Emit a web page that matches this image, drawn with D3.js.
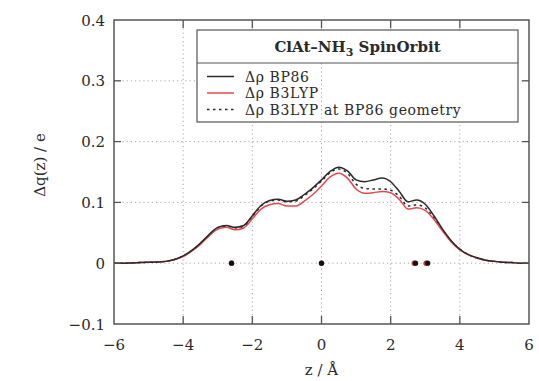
<!DOCTYPE html>
<html>
<head>
<meta charset="utf-8">
<script src="https://cdn.jsdelivr.net/npm/d3@7"></script>
<style>
  html, body { margin: 0; padding: 0; background: #fff; }
  svg { display: block; font-family: "DejaVu Serif", "Liberation Serif", serif; }
</style>
</head>
<body>
<svg id="chart" width="539" height="381"></svg>
<script>
// z positions (Å) at which the charge-displacement curves are sampled
const zGrid = [-6, -5.75, -5.5, -5.25, -5, -4.75, -4.5, -4.25, -4, -3.75, -3.5, -3.25, -3, -2.75, -2.5, -2.25,
  -2, -1.75, -1.5, -1.25, -1, -0.75, -0.5, -0.25, 0, 0.25, 0.5, 0.75, 1, 1.25, 1.5, 1.75,
  2, 2.25, 2.5, 2.75, 3, 3.25, 3.5, 3.75, 4, 4.25, 4.5, 4.75, 5, 5.25, 5.5, 5.75, 6];

// Δq(z) / e for BP86
const bp86 = [0, 0, 0.0005, 0.001, 0.0015, 0.002, 0.003, 0.006, 0.012, 0.021, 0.033, 0.047, 0.059, 0.062, 0.059, 0.062,
  0.078, 0.095, 0.103, 0.105, 0.102, 0.104, 0.113, 0.124, 0.137, 0.151, 0.158, 0.152, 0.137, 0.134, 0.137, 0.140,
  0.134, 0.118, 0.101, 0.104, 0.097, 0.078, 0.056, 0.037, 0.023, 0.014, 0.009, 0.005, 0.003, 0.0015, 0.001, 0, 0];

// Δq(z) / e for B3LYP
const b3lyp = [0, 0, 0.0005, 0.001, 0.0015, 0.002, 0.003, 0.006, 0.011, 0.020, 0.031, 0.045, 0.056, 0.059, 0.055, 0.058,
  0.073, 0.089, 0.096, 0.098, 0.094, 0.094, 0.102, 0.113, 0.127, 0.142, 0.148, 0.140, 0.122, 0.115, 0.116, 0.118,
  0.116, 0.105, 0.089, 0.091, 0.087, 0.072, 0.053, 0.035, 0.022, 0.014, 0.008, 0.005, 0.003, 0.0015, 0.001, 0, 0];

// Δq(z) / e for B3LYP evaluated at the BP86 geometry
const b3lypAtBp86 = [0, 0, 0.0005, 0.001, 0.0015, 0.002, 0.003, 0.006, 0.012, 0.021, 0.032, 0.046, 0.058, 0.061, 0.058, 0.061,
  0.077, 0.094, 0.102, 0.104, 0.101, 0.102, 0.111, 0.122, 0.135, 0.149, 0.155, 0.148, 0.130, 0.123, 0.122, 0.122,
  0.120, 0.110, 0.094, 0.096, 0.091, 0.075, 0.055, 0.036, 0.023, 0.014, 0.008, 0.005, 0.003, 0.0015, 0.001, 0, 0];

// nuclear positions along z (Å)
const atomsBp86 = [-2.6, 0, 2.72, 3.07];
const atomsB3lyp = [-2.6, 0, 2.68, 3.02];

const xTicks = [-6, -4, -2, 0, 2, 4, 6];
const yTicks = [-0.1, 0, 0.1, 0.2, 0.3, 0.4];

const legendTitle = "ClAt–NH";
const legendTitleSub = "3";
const legendTitleEnd = " SpinOrbit";
const seriesNames = ["Δρ BP86", "Δρ B3LYP", "Δρ B3LYP at BP86 geometry"];

const svg = d3.select("#chart");
const pLeft = 114, pRight = 529, pTop = 20, pBottom = 324;
const x = d3.scaleLinear().domain([-6, 6]).range([pLeft, pRight]);
const y = d3.scaleLinear().domain([-0.1, 0.4]).range([pBottom, pTop]);

const ink = "#2a2a2a";
const red = "#e5484d";
const gridColor = "#a8a8a8";

// grid
const grid = svg.append("g");
xTicks.slice(1, -1).forEach(t => {
  if (t === 0) return;
  grid.append("line").attr("x1", x(t)).attr("x2", x(t)).attr("y1", pTop).attr("y2", pBottom)
    .attr("stroke", gridColor).attr("stroke-width", 1).attr("stroke-dasharray", "1.2,3");
});
yTicks.slice(1, -1).forEach(t => {
  grid.append("line").attr("x1", pLeft).attr("x2", pRight).attr("y1", y(t)).attr("y2", y(t))
    .attr("stroke", gridColor).attr("stroke-width", 1).attr("stroke-dasharray", "1.2,3");
});

// legend box (opaque body)
const lg = { x0: 197, x1: 518, y0: 30, ySep: 63, y1: 122 };
svg.append("rect").attr("x", lg.x0).attr("y", lg.y0).attr("width", lg.x1 - lg.x0).attr("height", lg.y1 - lg.y0)
  .attr("fill", "#fff");

// vertical zero axis, drawn over the legend body
svg.append("line").attr("x1", x(0)).attr("x2", x(0)).attr("y1", lg.ySep).attr("y2", pBottom)
  .attr("stroke", gridColor).attr("stroke-width", 1).attr("stroke-dasharray", "1.2,3");
svg.append("line").attr("x1", x(0)).attr("x2", x(0)).attr("y1", pTop).attr("y2", lg.y0)
  .attr("stroke", gridColor).attr("stroke-width", 1).attr("stroke-dasharray", "1.2,3");

svg.append("rect").attr("x", lg.x0).attr("y", lg.y0).attr("width", lg.x1 - lg.x0).attr("height", lg.y1 - lg.y0)
  .attr("fill", "none").attr("stroke", "#555").attr("stroke-width", 1.2);
svg.append("line").attr("x1", lg.x0).attr("x2", lg.x1).attr("y1", lg.ySep).attr("y2", lg.ySep)
  .attr("stroke", "#555").attr("stroke-width", 1.2);

const title = svg.append("text").attr("x", (lg.x0 + lg.x1) / 2).attr("y", 52)
  .attr("text-anchor", "middle").attr("font-weight", "bold").attr("font-size", 15).attr("fill", ink);
title.append("tspan").text(legendTitle);
title.append("tspan").attr("dy", 4).attr("font-size", 11).text(legendTitleSub);
title.append("tspan").attr("dy", -4).text(legendTitleEnd);

const legendStyles = [
  { color: ink, dash: null },
  { color: red, dash: null },
  { color: ink, dash: "2.5,3.5" }
];
seriesNames.forEach((name, i) => {
  const ly = 76.5 + i * 16.5;
  svg.append("line").attr("x1", 207).attr("x2", 234).attr("y1", ly).attr("y2", ly)
    .attr("stroke", legendStyles[i].color).attr("stroke-width", 1.5)
    .attr("stroke-dasharray", legendStyles[i].dash);
  svg.append("text").attr("x", 245).attr("y", ly + 5).attr("font-size", 14)
    .attr("letter-spacing", 0.6).attr("fill", ink).text(name);
});

// curves
const line = d3.line().x(d => x(d[0])).y(d => y(d[1])).curve(d3.curveMonotoneX);
const series = [
  { values: b3lypAtBp86, color: ink, dash: "2.5,3.5" },
  { values: b3lyp, color: red, dash: null },
  { values: bp86, color: ink, dash: null }
];
series.forEach(s => {
  svg.append("path").datum(zGrid.map((z, i) => [z, s.values[i]]))
    .attr("d", line).attr("fill", "none").attr("stroke", s.color).attr("stroke-width", 1.5)
    .attr("stroke-dasharray", s.dash).attr("stroke-linejoin", "round");
});

// atoms
svg.selectAll("circle.b3").data(atomsB3lyp).join("circle").attr("class", "b3")
  .attr("cx", d => x(d)).attr("cy", y(0)).attr("r", 2.6).attr("fill", "#c0393c");
svg.selectAll("circle.bp").data(atomsBp86).join("circle").attr("class", "bp")
  .attr("cx", d => x(d)).attr("cy", y(0)).attr("r", 2.6).attr("fill", "#111");

// frame and ticks
const axisG = svg.append("g").attr("fill", "none").attr("stroke", "#555").attr("stroke-width", 1.3);
xTicks.slice(1, -1).forEach(t => {
  axisG.append("line").attr("x1", x(t)).attr("x2", x(t)).attr("y1", pBottom).attr("y2", pBottom - 8);
  axisG.append("line").attr("x1", x(t)).attr("x2", x(t)).attr("y1", pTop).attr("y2", pTop + 8);
});
yTicks.slice(1, -1).forEach(t => {
  axisG.append("line").attr("x1", pLeft).attr("x2", pLeft + 7).attr("y1", y(t)).attr("y2", y(t));
  axisG.append("line").attr("x1", pRight).attr("x2", pRight - 7).attr("y1", y(t)).attr("y2", y(t));
});
svg.append("rect").attr("x", pLeft).attr("y", pTop).attr("width", pRight - pLeft).attr("height", pBottom - pTop)
  .attr("fill", "none").attr("stroke", "#555").attr("stroke-width", 1.5);

// tick labels
const fmtY = d => d === 0 ? "0" : d3.format(".1f")(d).replace("-", "−");
svg.selectAll("text.yt").data(yTicks).join("text").attr("class", "yt")
  .attr("x", 105).attr("y", d => y(d) + 5.5).attr("text-anchor", "end")
  .attr("font-size", 15).attr("fill", ink).text(fmtY);
svg.selectAll("text.xt").data(xTicks).join("text").attr("class", "xt")
  .attr("x", d => x(d)).attr("y", 350).attr("text-anchor", "middle")
  .attr("font-size", 15).attr("fill", ink).text(d => String(d).replace("-", "−"));

// axis titles
svg.append("text").attr("x", x(0)).attr("y", 375).attr("text-anchor", "middle")
  .attr("font-size", 15).attr("fill", ink).text("z / Å");
svg.append("text").attr("transform", "translate(45,165) rotate(-90)").attr("text-anchor", "middle")
  .attr("font-size", 15).attr("fill", ink).text("Δq(z) / e");
</script>
</body>
</html>
